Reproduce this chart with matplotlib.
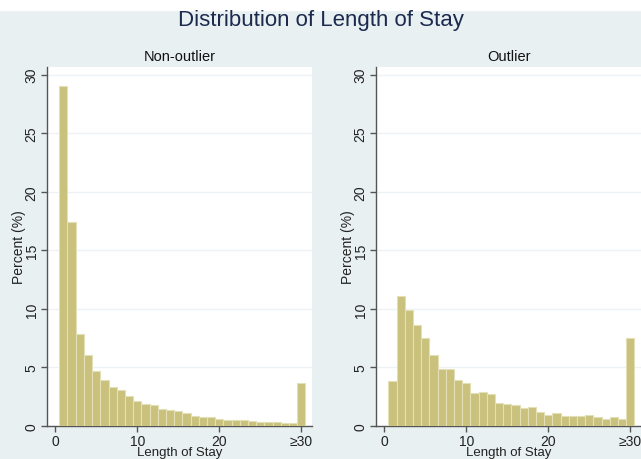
import matplotlib
matplotlib.use("Agg")
import matplotlib.pyplot as plt

plt.rcParams['font.family'] = ['Liberation Sans', 'DejaVu Sans']

# length of stay bins 1..30 (30 = "≥30")
los = list(range(1, 31))
non_outlier = [29.0, 17.4, 7.83, 6.03, 4.67, 3.96, 3.3, 3.05, 2.56, 2.1,
               1.85, 1.8, 1.42, 1.34, 1.28, 1.08, 0.88, 0.74, 0.74, 0.63,
               0.54, 0.54, 0.48, 0.43, 0.34, 0.34, 0.34, 0.23, 0.23, 3.7]
outlier = [3.81, 11.07, 9.93, 8.65, 7.49, 6.03, 4.84, 4.84, 3.96, 3.67,
           2.82, 2.9, 2.76, 1.99, 1.85, 1.8, 1.5, 1.6, 1.2, 0.94,
           1.14, 0.85, 0.85, 0.85, 0.94, 0.74, 0.63, 0.74, 0.57, 7.51]
xticks = [0, 10, 20, 30]
xticklabels = ['0', '10', '20', '≥30']
yticks = [0, 5, 10, 15, 20, 25, 30]

bg = '#e9f0f2'
bar_col = '#c9c17c'
edge_col = '#e3dfb6'
axis_col = '#555555'

fig = plt.figure(figsize=(6.41, 4.60), dpi=100, facecolor=bg)
# white strip at very top
fig.patches.append(plt.Rectangle((0, 0.977), 1, 0.03, transform=fig.transFigure,
                                 color='white', zorder=0))

fig.text(0.5, 0.955, 'Distribution of Length of Stay', ha='center', va='center',
         fontsize=16, color='#1b2a4e')

panels = [(0.0733, 'Non-outlier', non_outlier), (0.5866, 'Outlier', outlier)]
for x0, name, vals in panels:
    ax = fig.add_axes([x0, 0.0717, 0.4134, 0.781])
    ax.set_facecolor('white')
    ax.bar(los, vals, width=1.0, color=bar_col, edgecolor=edge_col, linewidth=0.8, zorder=3)
    ax.set_xlim(-1.0, 31.3)
    ax.set_ylim(0, 30.68)
    ax.set_yticks(yticks)
    ax.set_yticklabels([str(t) for t in yticks], rotation=90, va='center')
    ax.set_xticks(xticks)
    ax.set_xticklabels(xticklabels)
    ax.grid(axis='y', color='#edf3f5', linewidth=1.0, zorder=0)
    for s in ['top', 'right']:
        ax.spines[s].set_visible(False)
    for s in ['left', 'bottom']:
        ax.spines[s].set_color(axis_col)
        ax.spines[s].set_linewidth(1.0)
    ax.tick_params(colors=axis_col, labelcolor='#222222', labelsize=10, length=4, width=1.0)
    ax.tick_params(axis='y', pad=2)
    ax.tick_params(axis='x', pad=1.5)
    ax.set_ylabel('Percent (%)', fontsize=10, color='#222222', labelpad=-1)
    ax.set_xlabel('Length of Stay', fontsize=9.5, color='#222222', labelpad=-1)
    ax.set_title(name, fontsize=10.5, color='#111111', pad=5)

fig.savefig('out.png', dpi=100, facecolor=bg)
